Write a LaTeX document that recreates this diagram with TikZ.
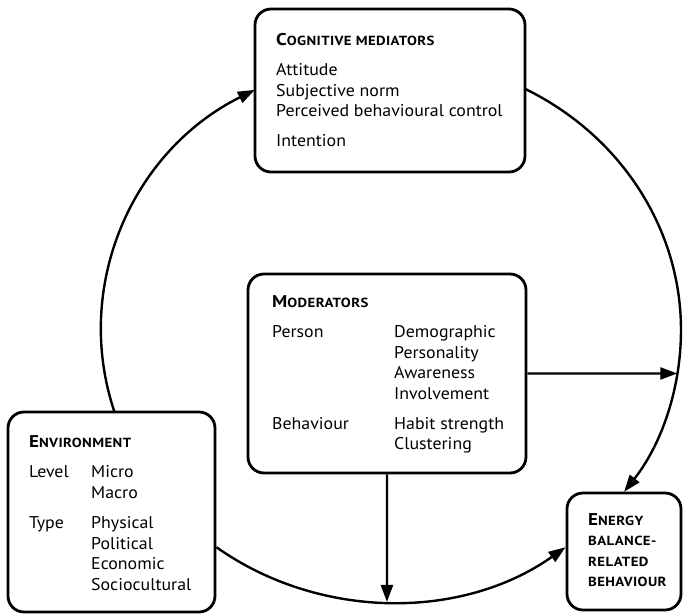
\documentclass[tikz,border=0pt]{standalone}
\usepackage{fontspec}
\setmainfont[FakeStretch=1.05]{PT Sans}
\newfontfamily\headfamily[FakeStretch=1.12,LetterSpace=3]{PT Sans}
\usetikzlibrary{arrows.meta,calc}
\newcommand{\bodyfont}{\fontsize{17}{20.5}\selectfont}
\newcommand{\bigscfont}{\fontsize{17}{20.5}\selectfont}
\newcommand{\smallscfont}{\fontsize{13.2}{20.5}\selectfont}
\newcommand{\fakesc}[2]{{\headfamily\bfseries\bigscfont #1\smallscfont #2}}
\begin{document}
\begin{tikzpicture}[x=1pt,y=-1pt,
  box/.style={draw, line width=2.8pt, rounded corners=16pt, inner sep=0pt},
  txt/.style={anchor=base west, inner sep=0pt, font=\bodyfont},
  conn/.style={line width=2.4pt, -{Triangle[length=17pt,width=12pt]}}]
\useasboundingbox (0,0) rectangle (683,616);
\coordinate (c) at (391,330);
% boxes
\node[box, minimum width=270pt, minimum height=163pt] (cog) at (390,90.5) {};
\node[box, minimum width=278pt, minimum height=199pt] (mod) at (387,373.5) {};
\node[box, minimum width=207pt, minimum height=200pt] (env) at (111.5,512) {};
\node[box, minimum width=114pt, minimum height=117pt] (ebr) at (624,551.5) {};
% texts
\node[txt] (cogt) at (276,45.5) {\begin{tabular}[t]{@{}l@{}}
\fakesc{C}{OGNITIVE MEDIATORS}\\[9.5pt]
Attitude\\ Subjective norm\\ Perceived behavioural control\\[9.5pt]
Intention\end{tabular}};
\node[txt] (modt) at (272,307) {\begin{tabular}[t]{@{}p{122pt}@{}l@{}}
\multicolumn{2}{@{}l@{}}{\fakesc{M}{ODERATORS}}\\[10pt]
Person & Demographic\\ & Personality\\ & Awareness\\ & Involvement\\[9.5pt]
Behaviour & Habit strength\\ & Clustering\end{tabular}};
\node[txt] (envt) at (29,447) {\begin{tabular}[t]{@{}p{62pt}@{}l@{}}
\multicolumn{2}{@{}l@{}}{\fakesc{E}{NVIRONMENT}}\\[10pt]
Level & Micro\\ & Macro\\[10pt]
Type & Physical\\ & Political\\ & Economic\\ & Sociocultural\end{tabular}};
\node[txt] (ebrt) at (588,525) {\begin{tabular}[t]{@{}l@{}}
\fakesc{E}{NERGY}\\ \fakesc{}{BALANCE-}\\ \fakesc{}{RELATED}\\ \fakesc{}{BEHAVIOUR}\end{tabular}};
% connector end points on the cycle
\coordinate (a1s) at ($(c)+(162.5:290 and 272)$);
\coordinate (a2s) at ($(c)+(-62.5:290 and 272)$);
\coordinate (a3s) at ($(c)+(127:290 and 272)$);
\coordinate (mr) at ($(c)+(9.2:290 and 272)$);
\coordinate (mb) at ($(c)+(90.8:290 and 272)$);
% connectors
\draw[conn] (a1s) arc[start angle=162.5, end angle=242, x radius=290, y radius=272];
\draw[conn] (a2s) arc[start angle=-62.5, end angle=36.5, x radius=290, y radius=272];
\draw[conn] (a3s) arc[start angle=127, end angle=53, x radius=290, y radius=272];
\draw[conn] (mod.east) -- (mr);
\draw[conn] (mod.south) -- (mb);
\end{tikzpicture}
\end{document}
